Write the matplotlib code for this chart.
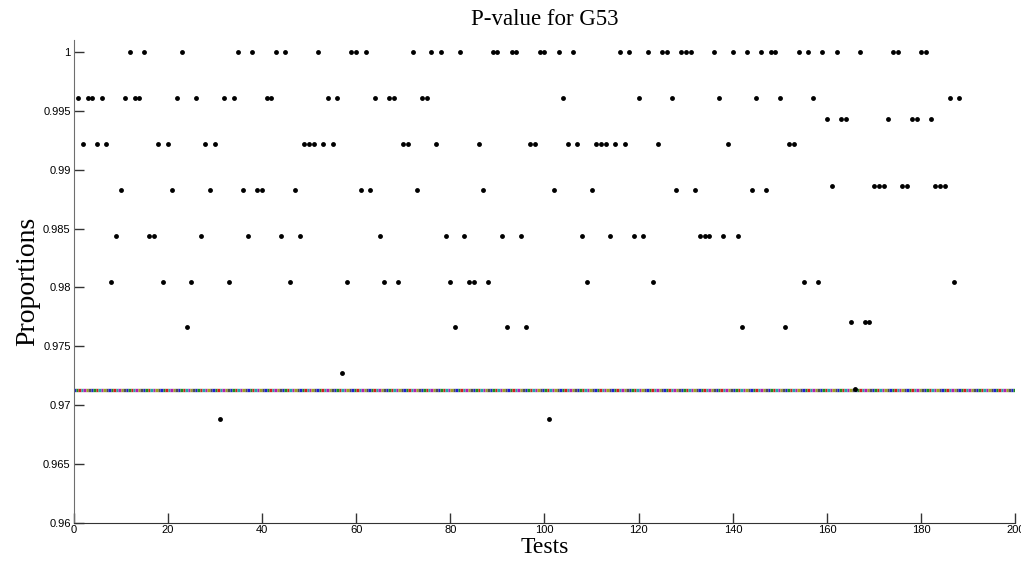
import numpy as np
import matplotlib
matplotlib.use("Agg")
import matplotlib.pyplot as plt
from matplotlib.collections import LineCollection
from matplotlib.ticker import FormatStrFormatter

# proportion of passing sequences for each test (1..188)
tests = list(range(1, 189))
proportions = [
    # 1-50
    0.9961, 0.9922, 0.9961, 0.9961, 0.9922, 0.9961, 0.9922, 0.9805, 0.9844, 0.9883,
    0.9961, 1.0000, 0.9961, 0.9961, 1.0000, 0.9844, 0.9844, 0.9922, 0.9805, 0.9922,
    0.9883, 0.9961, 1.0000, 0.9766, 0.9805, 0.9961, 0.9844, 0.9922, 0.9883, 0.9922,
    0.9688, 0.9961, 0.9805, 0.9961, 1.0000, 0.9883, 0.9844, 1.0000, 0.9883, 0.9883,
    0.9961, 0.9961, 1.0000, 0.9844, 1.0000, 0.9805, 0.9883, 0.9844, 0.9922, 0.9922,
    # 51-100
    0.9922, 1.0000, 0.9922, 0.9961, 0.9922, 0.9961, 0.9727, 0.9805, 1.0000, 1.0000,
    0.9883, 1.0000, 0.9883, 0.9961, 0.9844, 0.9805, 0.9961, 0.9961, 0.9805, 0.9922,
    0.9922, 1.0000, 0.9883, 0.9961, 0.9961, 1.0000, 0.9922, 1.0000, 0.9844, 0.9805,
    0.9766, 1.0000, 0.9844, 0.9805, 0.9805, 0.9922, 0.9883, 0.9805, 1.0000, 1.0000,
    0.9844, 0.9766, 1.0000, 1.0000, 0.9844, 0.9766, 0.9922, 0.9922, 1.0000, 1.0000,
    # 101-150
    0.9688, 0.9883, 1.0000, 0.9961, 0.9922, 1.0000, 0.9922, 0.9844, 0.9805, 0.9883,
    0.9922, 0.9922, 0.9922, 0.9844, 0.9922, 1.0000, 0.9922, 1.0000, 0.9844, 0.9961,
    0.9844, 1.0000, 0.9805, 0.9922, 1.0000, 1.0000, 0.9961, 0.9883, 1.0000, 1.0000,
    1.0000, 0.9883, 0.9844, 0.9844, 0.9844, 1.0000, 0.9961, 0.9844, 0.9922, 1.0000,
    0.9844, 0.9766, 1.0000, 0.9883, 0.9961, 1.0000, 0.9883, 1.0000, 1.0000, 0.9961,
    # 151-188
    0.9766, 0.9922, 0.9922, 1.0000, 0.9805, 1.0000, 0.9961, 0.9805, 1.0000, 0.9943,
    0.9886, 1.0000, 0.9943, 0.9943, 0.9771, 0.9714, 1.0000, 0.9771, 0.9771, 0.9886,
    0.9886, 0.9886, 0.9943, 1.0000, 1.0000, 0.9886, 0.9886, 0.9943, 0.9943, 1.0000,
    1.0000, 0.9943, 0.9886, 0.9886, 0.9886, 0.9961, 0.9805, 0.9961,
]

# lower bound of the acceptable proportion range
threshold = 0.9713
line_colors = ["#2020d0", "#209020", "#d02020", "#20a8a8", "#b020b0", "#a0a020", "#505050"]

xticks = list(range(0, 201, 20))
yticks = [0.96, 0.965, 0.97, 0.975, 0.98, 0.985, 0.99, 0.995, 1.0]

fig = plt.figure(figsize=(10.21, 5.64), dpi=100)
ax = fig.add_axes([0.072, 0.0732, 0.9226, 0.855])

# threshold line drawn as many short coloured pieces
n_seg = 380
edges = np.linspace(0, 200, n_seg + 1)
segs = [[(edges[i], threshold), (edges[i + 1], threshold)] for i in range(n_seg)]
cols = [line_colors[i % len(line_colors)] for i in range(n_seg)]
ax.add_collection(LineCollection(segs, colors=cols, linewidths=2.4, capstyle="butt"))

ax.plot(tests, proportions, "o", color="black", markersize=3.5, markeredgewidth=0)

ax.set_xlim(0, 200)
ax.set_ylim(0.96, 1.001)
ax.set_xticks(xticks)
ax.set_yticks(yticks)
ax.yaxis.set_major_formatter(FormatStrFormatter("%g"))

ax.spines["top"].set_visible(False)
ax.spines["right"].set_visible(False)
ax.spines["left"].set_color("#6e6e6e")
ax.spines["bottom"].set_color("#333333")
ax.tick_params(direction="in", length=7, width=1, color="#333333",
               labelsize=8, pad=2)
for lab in ax.get_xticklabels() + ax.get_yticklabels():
    lab.set_family("Liberation Sans")

serif = "Liberation Serif"
ax.set_title("P-value for G53", fontsize=16.5, family=serif, pad=11)
ax.set_xlabel("Tests", fontsize=17, family=serif, labelpad=1)
ax.set_ylabel("Proportions", fontsize=20, family=serif, labelpad=2)

fig.savefig("out.png", dpi=100, facecolor="white")
